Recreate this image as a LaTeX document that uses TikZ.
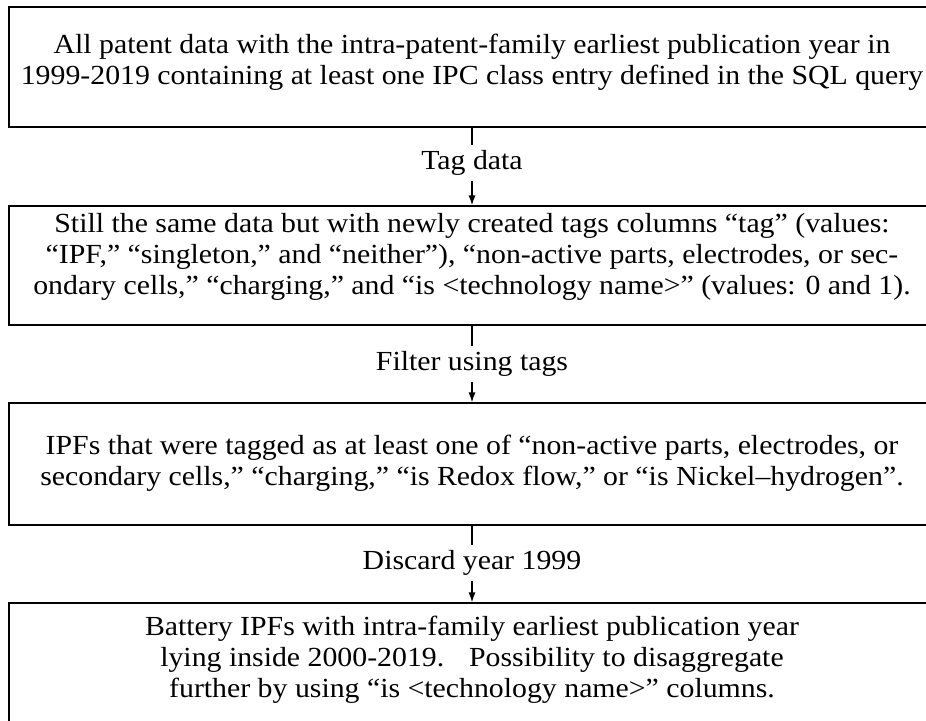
\documentclass[tikz,border=0pt]{standalone}
\usepackage{fontspec}
\setmainfont{Liberation Serif}[FakeStretch=1.08]
\usetikzlibrary{arrows.meta}
\tikzset{
  flowbox/.style={draw, line width=0.7pt, minimum width=463pt, inner sep=0pt},
  flowtext/.style={align=center, inner sep=0pt, font=\fontsize{13.8}{15.5}\selectfont},
  steplabel/.style={inner sep=2.5pt, font=\fontsize{13.8}{15.5}\selectfont},
  conn/.style={line width=0.7pt},
  connarrow/.style={line width=0.7pt, -{Latex[length=5pt,width=3.6pt]}}
}
\begin{document}
\begin{tikzpicture}
\useasboundingbox (0,0) rectangle (463pt,-360pt);
% boxes
\node[flowbox, minimum height=60pt] (b1) at (236pt,-33.5pt) {};
\node[flowbox, minimum height=59.5pt] (b2) at (236pt,-132.75pt) {};
\node[flowbox, minimum height=61pt] (b3) at (236pt,-232pt) {};
\node[flowbox, minimum height=60pt] (b4) at (236pt,-331.5pt) {};
% texts
\node[flowtext] (t1) at (236pt,-31pt) {All patent data with the intra-patent-family earliest publication year in\\
1999-2019 containing at least one IPC class entry defined in the SQL query};
\node[flowtext] (t2) at (236pt,-128.5pt) {Still the same data but with newly created tags columns “tag” (values:\\
“IPF,” “singleton,” and “neither”), “non-active parts, electrodes, or sec-\\
ondary cells,” “charging,” and “is <technology name>” (values: 0 and 1).};
\node[flowtext] (t3) at (236pt,-231.5pt) {IPFs that were tagged as at least one of “non-active parts, electrodes, or\\
secondary cells,” “charging,” “is Redox flow,” or “is Nickel–hydrogen”.};
\node[flowtext] (t4) at (236pt,-330pt) {Battery IPFs with intra-family earliest publication year\\
lying inside 2000-2019.\hspace{0.9em}Possibility to disaggregate\\
further by using “is <technology name>” columns.};
% step labels
\node[steplabel] (l1) at (236pt,-81.5pt) {Tag data};
\node[steplabel] (l2) at (236pt,-182pt) {Filter using tags};
\node[steplabel] (l3) at (236pt,-281.5pt) {Discard year 1999};
% connectors
\draw[conn] (b1.south) -- (l1.north);
\draw[connarrow] (l1.south) -- (b2.north);
\draw[conn] (b2.south) -- (l2.north);
\draw[connarrow] (l2.south) -- (b3.north);
\draw[conn] (b3.south) -- (l3.north);
\draw[connarrow] (l3.south) -- (b4.north);
\end{tikzpicture}
\end{document}
